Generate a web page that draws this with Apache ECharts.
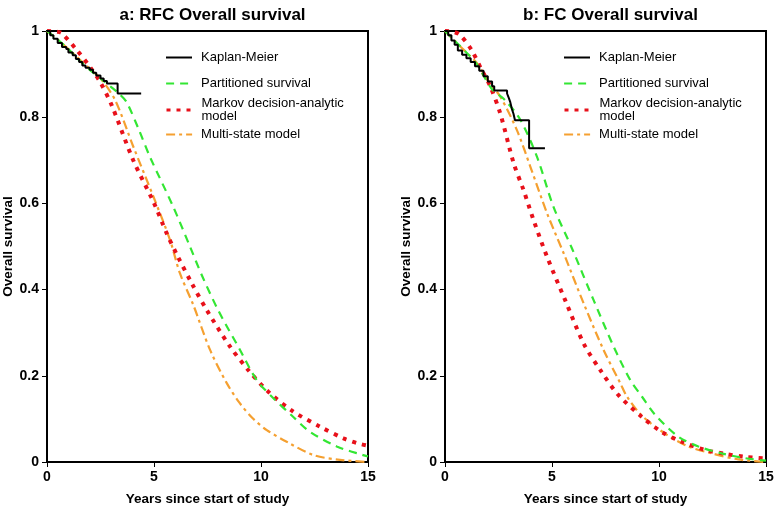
<!DOCTYPE html>
<html>
<head>
<meta charset="utf-8">
<script src="https://cdn.jsdelivr.net/npm/echarts@6/dist/echarts.min.js"></script>
<style>html,body{margin:0;padding:0;background:#fff}#c{width:776px;height:510px}</style>
</head>
<body>
<div id="c"></div>
<script>
// ---- Data (time in years, overall survival) ----
var panelTitles = ['a: RFC Overall survival', 'b: FC Overall survival'];
var seriesNames = ['Kaplan-Meier', 'Partitioned survival', 'Markov decision-analytic model', 'Multi-state model'];
var xTicks = [0, 5, 10, 15];
var yTicks = [0, 0.2, 0.4, 0.6, 0.8, 1];

var rfcKM = [[0,1],[0.15,0.99],[0.3,0.982],[0.5,0.972],[0.7,0.963],[0.9,0.958],[1.0,0.95],[1.2,0.944],[1.35,0.935],[1.5,0.928],[1.65,0.92],[1.8,0.915],[2.0,0.91],[2.15,0.903],[2.3,0.897],[2.5,0.89],[2.65,0.884],[2.8,0.878],[3.3,0.855],[4.4,0.855]];
var rfcPartitioned = [[0,1],[0.5,0.98],[1,0.958],[1.5,0.932],[2,0.91],[2.5,0.89],[3,0.87],[3.4,0.853],[3.72,0.835],[4.3,0.77],[4.81,0.708],[5.9,0.592],[6.68,0.5],[7.23,0.434],[8.0,0.352],[9.02,0.26],[9.8,0.19],[10.58,0.148],[11.5,0.105],[12.29,0.07],[13.54,0.036],[14.77,0.016],[15,0.013]];
var rfcMarkov = [[0,1],[0.5,0.998],[0.69,0.995],[1.39,0.956],[2.0,0.917],[2.48,0.882],[3.02,0.828],[4.03,0.7],[4.97,0.604],[5.59,0.531],[6.1,0.478],[6.76,0.415],[7.46,0.353],[8.55,0.268],[9.41,0.213],[10.34,0.163],[11.51,0.117],[12.76,0.082],[13.85,0.055],[14.55,0.043],[15,0.038]];
var rfcMultiState = [[0,1],[0.5,0.98],[1,0.958],[1.5,0.935],[2,0.912],[2.5,0.89],[3.18,0.84],[4.03,0.732],[4.97,0.616],[5.75,0.515],[6.21,0.438],[6.84,0.364],[7.62,0.26],[8.4,0.183],[9.0,0.137],[9.6,0.102],[10.27,0.074],[11.2,0.047],[12.45,0.016],[13.69,0.005],[15,0]];

var fcKM = [[0,1],[0.15,0.99],[0.3,0.978],[0.45,0.968],[0.6,0.955],[0.8,0.945],[1.0,0.937],[1.2,0.928],[1.4,0.918],[1.6,0.908],[1.8,0.895],[2.0,0.883],[2.2,0.872],[2.3,0.862],[2.9,0.855],[2.98,0.845],[3.05,0.835],[3.12,0.82],[3.2,0.808],[3.27,0.793],[3.93,0.728],[4.67,0.728]];
var fcPartitioned = [[0,1],[0.5,0.975],[1,0.95],[1.5,0.922],[2.18,0.866],[2.8,0.84],[3.52,0.794],[4.3,0.708],[5.07,0.592],[5.93,0.496],[6.94,0.376],[7.88,0.268],[8.66,0.19],[9.2,0.152],[9.81,0.11],[10.9,0.059],[11.84,0.036],[12.93,0.02],[14.0,0.009],[15,0.003]];
var fcMarkov = [[0,1],[0.4,0.998],[0.7,0.991],[1.24,0.956],[1.71,0.91],[2.12,0.871],[2.58,0.809],[3.21,0.693],[3.67,0.631],[4.14,0.561],[4.77,0.476],[5.62,0.375],[6.48,0.275],[7.26,0.213],[8.11,0.155],[9.19,0.105],[10.12,0.07],[11.06,0.047],[12.15,0.028],[13.08,0.019],[14.0,0.012],[15,0.008]];
var fcMultiState = [[0,1],[0.5,0.975],[1,0.95],[1.5,0.925],[2,0.885],[2.58,0.848],[3.36,0.77],[3.99,0.685],[4.77,0.577],[5.58,0.48],[6.48,0.368],[7.41,0.26],[8.19,0.183],[8.5,0.152],[9.19,0.108],[10.28,0.066],[11.37,0.036],[12.46,0.02],[13.7,0.006],[15,0]];

// ---- Styles ----
var FONT = '"Liberation Sans", Arial, sans-serif';
var styles = [
  {color: '#000000', width: 2, type: 'solid'},
  {color: '#33e633', width: 2.2, type: [8, 6]},
  {color: '#e8101a', width: 4, type: [4, 6]},
  {color: '#f5a030', width: 2.2, type: [9, 4, 3, 4]}
];
var panels = [
  {left: 47, right: 408, data: [rfcKM, rfcPartitioned, rfcMarkov, rfcMultiState], legendX: 165},
  {left: 445, right: 10, data: [fcKM, fcPartitioned, fcMarkov, fcMultiState], legendX: 563}
];
var legendCenters = [58, 84, 110, 135];

var option = {
  backgroundColor: '#fff',
  animation: false,
  title: [], grid: [], xAxis: [], yAxis: [], series: [], legend: []
};

panels.forEach(function (p, i) {
  var gridW = 776 - p.left - p.right;
  option.title.push({
    text: panelTitles[i], left: p.left + gridW / 2, top: 2, textAlign: 'center',
    textStyle: {fontFamily: FONT, fontWeight: 'bold', fontSize: 17, color: '#000'}
  });
  option.grid.push({left: p.left, right: p.right, top: 31, bottom: 48, show: true, borderColor: '#000', borderWidth: 2,
    backgroundColor: 'transparent', containLabel: false, outerBoundsMode: 'none'});
  option.xAxis.push({
    type: 'value', gridIndex: i, min: xTicks[0], max: xTicks[xTicks.length - 1], interval: 5,
    name: 'Years since start of study', nameLocation: 'middle', nameGap: 30,
    nameTextStyle: {fontFamily: FONT, fontWeight: 'bold', fontSize: 13.5, color: '#000'},
    axisLine: {show: true, lineStyle: {color: '#000', width: 2}},
    axisTick: {show: true, length: 5, lineStyle: {color: '#000', width: 1}},
    axisLabel: {fontFamily: FONT, fontWeight: 'bold', fontSize: 14, color: '#000', margin: 8},
    splitLine: {show: false}
  });
  option.yAxis.push({
    type: 'value', gridIndex: i, min: 0, max: 1, interval: 0.2,
    name: 'Overall survival', nameLocation: 'middle', nameGap: 32,
    nameTextStyle: {fontFamily: FONT, fontWeight: 'bold', fontSize: 13.5, color: '#000'},
    axisLine: {show: true, lineStyle: {color: '#000', width: 2}},
    axisTick: {show: true, length: 5, lineStyle: {color: '#000', width: 1}},
    axisLabel: {fontFamily: FONT, fontWeight: 'bold', fontSize: 14, color: '#000', margin: 8,
      formatter: function (v) { return String(Math.round(v * 10) / 10); }},
    splitLine: {show: false}
  });
  p.data.forEach(function (d, k) {
    var s = {
      type: 'line', name: seriesNames[k], xAxisIndex: i, yAxisIndex: i, data: d,
      showSymbol: false, symbol: 'none', z: 10 - k,
      lineStyle: {color: styles[k].color, width: styles[k].width, type: styles[k].type},
      itemStyle: {color: styles[k].color}
    };
    if (k === 0) { s.step = 'end'; s.z = 20; } else { s.smooth = 0.3; }
    option.series.push(s);
    option.legend.push({
      data: [seriesNames[k]], left: p.legendX, top: legendCenters[k] - (k === 2 ? 13 : 7),
      orient: 'vertical', itemWidth: 26, itemHeight: 12, itemGap: 8, padding: 0,
      selectedMode: false,
      itemStyle: {opacity: 0},
      lineStyle: {color: styles[k].color, width: Math.min(styles[k].width, 3), type: styles[k].type, opacity: 1},
      formatter: function (n) { return n === 'Markov decision-analytic model' ? 'Markov decision-analytic\nmodel' : n; },
      textStyle: {fontFamily: FONT, fontSize: 13, color: '#000', lineHeight: 13, padding: [0, 0, 0, 4]}
    });
  });
});

var chart = echarts.init(document.getElementById('c'), null, {renderer: 'canvas'});
chart.setOption(option);
</script>
</body>
</html>
